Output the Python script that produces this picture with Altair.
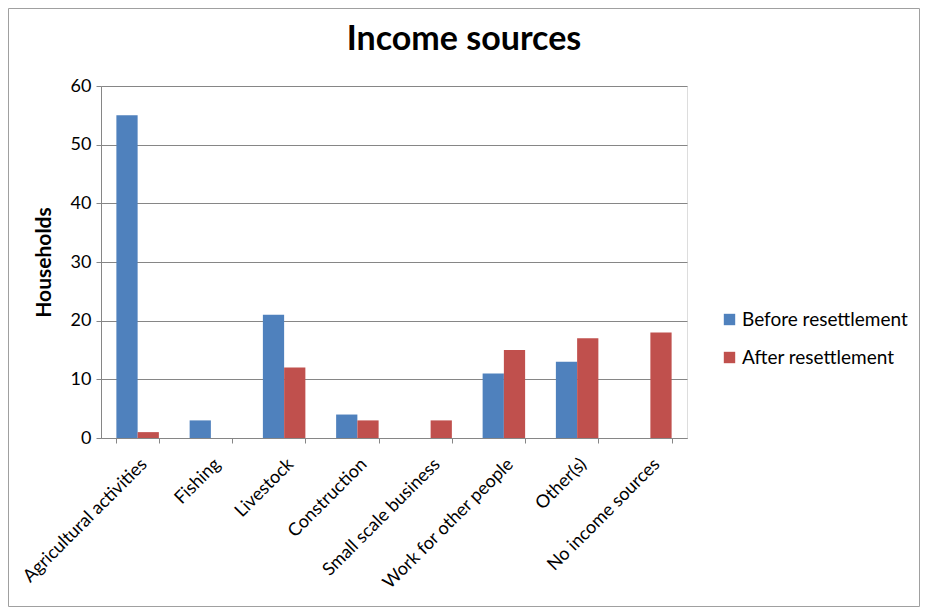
import altair as alt
import pandas as pd

categories = ["Agricultural activities", "Fishing", "Livestock", "Construction",
              "Small scale business", "Work for other people", "Other(s)", "No income sources"]
before = [55, 3, 21, 4, 0, 11, 13, 0]
after = [1, 0, 12, 3, 3, 15, 17, 18]
series = ["Before resettlement", "After resettlement"]
colors = ["#4F81BD", "#C0504D"]
chart_title = "Income sources"

rows = []
for c, b, a in zip(categories, before, after):
    rows.append({"cat": c, "series": series[0], "value": b})
    rows.append({"cat": c, "series": series[1], "value": a})
df = pd.DataFrame(rows)

FONT = "Lato"
W, H = 586, 352
PL, PT = 93, 78
PR = 912 - PL - W
PB = 599 - PT - H

bars = alt.Chart(df).mark_bar().encode(
    x=alt.X("cat:N", sort=categories, title=None,
            scale=alt.Scale(paddingInner=0.42, paddingOuter=0.21),
            axis=alt.Axis(labelAngle=-45, labelFontSize=18, labelFont=FONT,
                          labelColor="#000000", tickBand="extent", tickSize=5,
                          tickColor="#868686", domainColor="#868686",
                          labelPadding=12, labelLimit=400)),
    xOffset=alt.XOffset("series:N", sort=series, scale=alt.Scale(paddingInner=0, paddingOuter=0)),
    y=alt.Y("value:Q", title="Households",
            scale=alt.Scale(domain=[0, 60]),
            axis=alt.Axis(values=[0, 10, 20, 30, 40, 50, 60], labelFontSize=18, labelFont=FONT,
                          labelColor="#000000", titleFont=FONT, titleFontSize=21,
                          titleFontWeight="bold", titleColor="#000000", titlePadding=16,
                          gridColor="#868686", gridWidth=1, tickColor="#868686",
                          domainColor="#868686", tickSize=5, labelPadding=5)),
    color=alt.Color("series:N", sort=series,
                    scale=alt.Scale(domain=series, range=colors),
                    legend=alt.Legend(title=None, orient="none", legendX=619, legendY=224,
                                      symbolType="square", symbolSize=130,
                                      symbolStrokeWidth=0, labelFontSize=19,
                                      labelFont=FONT, labelColor="#000000",
                                      rowPadding=18, labelOffset=3, labelLimit=400)),
)

frame = alt.Chart(pd.DataFrame({"k": [0]})).mark_rect(
    fill=None, stroke="#A0A0A0", strokeWidth=1
).encode(
    x=alt.value(-PL + 0.5), x2=alt.value(W + PR - 0.5),
    y=alt.value(-PT + 0.5), y2=alt.value(H + PB - 0.5),
)

title_mark = alt.Chart(pd.DataFrame({"t": [chart_title]})).mark_text(
    font=FONT, fontSize=34, fontWeight="bold", color="#000000",
    align="center", baseline="alphabetic"
).encode(
    text="t:N", x=alt.value(363), y=alt.value(-36),
)

chart = alt.layer(bars, frame, title_mark).properties(
    width=W, height=H,
    padding={"left": PL, "top": PT, "right": PR, "bottom": PB},
    autosize=alt.AutoSizeParams(type="none"),
).configure_view(stroke=None).configure(background="white")

chart.save("out.html", embed_options={"renderer": "svg", "actions": False})
